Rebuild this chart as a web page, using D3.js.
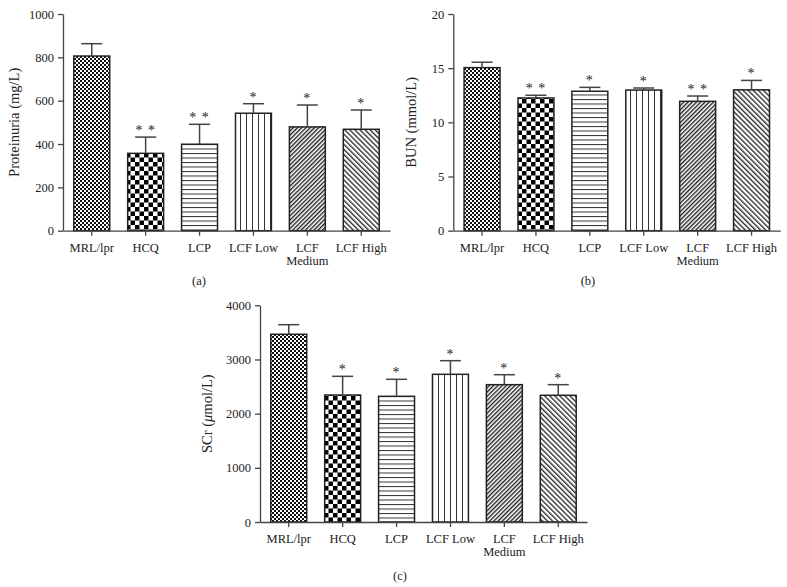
<!DOCTYPE html>
<html>
<head>
<meta charset="utf-8">
<script src="https://cdn.jsdelivr.net/npm/d3@7"></script>
<style>
  body { margin: 0; background: #fff; }
  text { font-family: "Liberation Serif", "DejaVu Serif", serif; fill: #222; }
</style>
</head>
<body>
<svg id="chart"></svg>
<script>
const width = 787;
const height = 587;

const groups = ["MRL/lpr", "HCQ", "LCP", "LCF Low", "LCF Medium", "LCF High"];
const groupLines = [["MRL/lpr"], ["HCQ"], ["LCP"], ["LCF Low"], ["LCF", "Medium"], ["LCF High"]];
const patternIds = ["fine", "checker", "hlines", "vlines", "diagR", "diagL"];

const proteinuria = [806, 357, 399, 542, 479, 468];
const proteinuriaErr = [57, 75, 92, 44, 101, 89];
const proteinuriaSig = ["", "**", "**", "*", "*", "*"];
const proteinuriaTicks = [0, 200, 400, 600, 800, 1000];

const bun = [15.05, 12.25, 12.87, 12.98, 11.94, 13.0];
const bunErr = [0.5, 0.25, 0.36, 0.19, 0.49, 0.87];
const bunSig = ["", "**", "*", "*", "**", "*"];
const bunTicks = [0, 5, 10, 15, 20];

const scr = [3465, 2344, 2320, 2726, 2535, 2339];
const scrErr = [177, 345, 314, 252, 184, 196];
const scrSig = ["", "*", "*", "*", "*", "*"];
const scrTicks = [0, 1000, 2000, 3000, 4000];

var svg = d3.select("#chart")
    .attr("width", width)
    .attr("height", height);

// fill patterns
var defs = svg.append("defs");

var p = defs.append("pattern").attr("id", "fine")
    .attr("patternUnits", "userSpaceOnUse").attr("width", 4).attr("height", 4);
p.append("rect").attr("width", 4).attr("height", 4).attr("fill", "#fff");
p.append("rect").attr("width", 2).attr("height", 2).attr("fill", "#111");
p.append("rect").attr("x", 2).attr("y", 2).attr("width", 2).attr("height", 2).attr("fill", "#111");

p = defs.append("pattern").attr("id", "checker")
    .attr("patternUnits", "userSpaceOnUse").attr("width", 9).attr("height", 9);
p.append("rect").attr("width", 9).attr("height", 9).attr("fill", "#fff");
p.append("rect").attr("width", 4.5).attr("height", 4.5).attr("fill", "#000");
p.append("rect").attr("x", 4.5).attr("y", 4.5).attr("width", 4.5).attr("height", 4.5).attr("fill", "#000");

p = defs.append("pattern").attr("id", "hlines")
    .attr("patternUnits", "userSpaceOnUse").attr("width", 6).attr("height", 4.5);
p.append("rect").attr("width", 6).attr("height", 4.5).attr("fill", "#fff");
p.append("line").attr("x1", 0).attr("x2", 6).attr("y1", 0.5).attr("y2", 0.5)
    .attr("stroke", "#333").attr("stroke-width", 1);

p = defs.append("pattern").attr("id", "vlines")
    .attr("patternUnits", "userSpaceOnUse").attr("width", 6).attr("height", 6);
p.append("rect").attr("width", 6).attr("height", 6).attr("fill", "#fff");
p.append("line").attr("x1", 0.5).attr("x2", 0.5).attr("y1", 0).attr("y2", 6)
    .attr("stroke", "#333").attr("stroke-width", 1);

p = defs.append("pattern").attr("id", "diagR")
    .attr("patternUnits", "userSpaceOnUse").attr("width", 3).attr("height", 3)
    .attr("patternTransform", "rotate(45)");
p.append("rect").attr("width", 3).attr("height", 3).attr("fill", "#fff");
p.append("line").attr("x1", 0.7).attr("x2", 0.7).attr("y1", 0).attr("y2", 3)
    .attr("stroke", "#111").attr("stroke-width", 1.3);

p = defs.append("pattern").attr("id", "diagL")
    .attr("patternUnits", "userSpaceOnUse").attr("width", 3.6).attr("height", 3.6)
    .attr("patternTransform", "rotate(-45)");
p.append("rect").attr("width", 3.6).attr("height", 3.6).attr("fill", "#fff");
p.append("line").attr("x1", 0.7).attr("x2", 0.7).attr("y1", 0).attr("y2", 3.6)
    .attr("stroke", "#111").attr("stroke-width", 1.2);

function drawPanel(opt) {
    var g = svg.append("g");

    var x = d3.scaleBand()
        .domain(groups)
        .range([opt.left, opt.left + 327])
        .paddingInner(1 / 3)
        .paddingOuter(0.2);

    var y = d3.scaleLinear()
        .domain([0, opt.max])
        .range([opt.bottom, opt.top]);

    var cx = d => x(d) + x.bandwidth() / 2;
    var errTop = i => y(opt.values[i] + opt.errors[i]);

    // bars
    g.selectAll("rect.bar")
        .data(groups)
        .enter()
        .append("rect")
        .attr("class", "bar")
        .attr("x", d => x(d))
        .attr("width", x.bandwidth())
        .attr("y", (d, i) => y(opt.values[i]))
        .attr("height", (d, i) => y(0) - y(opt.values[i]))
        .attr("fill", (d, i) => "url(#" + patternIds[i] + ")")
        .attr("stroke", "#222")
        .attr("stroke-width", 1.5);

    // error bars (upper only)
    g.selectAll("line.err")
        .data(groups)
        .enter()
        .append("line")
        .attr("x1", cx).attr("x2", cx)
        .attr("y1", (d, i) => y(opt.values[i]))
        .attr("y2", (d, i) => errTop(i))
        .attr("stroke", "#444").attr("stroke-width", 1.5);
    g.selectAll("line.cap")
        .data(groups)
        .enter()
        .append("line")
        .attr("x1", d => cx(d) - 10.5).attr("x2", d => cx(d) + 10.5)
        .attr("y1", (d, i) => errTop(i))
        .attr("y2", (d, i) => errTop(i))
        .attr("stroke", "#444").attr("stroke-width", 1.5);

    // significance marks
    g.selectAll("text.sig")
        .data(groups)
        .enter()
        .append("text")
        .attr("x", cx)
        .attr("y", (d, i) => errTop(i) - 2)
        .attr("text-anchor", "middle")
        .attr("font-size", 14)
        .attr("letter-spacing", 1)
        .attr("fill", "#333")
        .text((d, i) => opt.sig[i].split("").join(" "));

    // axes
    var yAxis = g.append("g")
        .attr("transform", "translate(" + opt.left + ",0)")
        .call(d3.axisLeft(y).tickValues(opt.ticks).tickFormat(d3.format("d"))
            .tickSize(5).tickPadding(4).tickSizeOuter(0));
    var xAxis = g.append("g")
        .attr("transform", "translate(0," + opt.bottom + ")")
        .call(d3.axisBottom(x).tickSize(5).tickSizeOuter(0).tickFormat(""));

    [yAxis, xAxis].forEach(function(a) {
        a.select(".domain").attr("stroke", "#444").attr("stroke-width", 1.3);
        a.selectAll(".tick line").attr("stroke", "#444").attr("stroke-width", 1.3);
    });
    yAxis.selectAll(".tick text")
        .attr("font-size", 12.5)
        .attr("font-family", "Liberation Serif")
        .attr("fill", "#222");

    // category labels, one text per line
    groups.forEach(function(d, i) {
        groupLines[i].forEach(function(s, k) {
            g.append("text")
                .attr("x", cx(d))
                .attr("y", opt.bottom + 21 + k * 13)
                .attr("text-anchor", "middle")
                .attr("font-size", 12.5)
                .text(s);
        });
    });

    // y title
    var yt = g.append("text")
        .attr("transform", "translate(" + opt.titleX + "," + (opt.top + opt.bottom) / 2 + ") rotate(-90)")
        .attr("text-anchor", "middle")
        .attr("font-size", 14.5);
    opt.title.forEach(function(part) {
        yt.append("tspan").attr("font-style", part[1] ? "italic" : null).text(part[0]);
    });

    // panel letter
    g.append("text")
        .attr("x", opt.letterX)
        .attr("y", opt.letterY)
        .attr("text-anchor", "middle")
        .attr("font-size", 12.5)
        .text(opt.letter);
}

drawPanel({
    left: 63, top: 14, bottom: 230.7, max: 1000,
    values: proteinuria, errors: proteinuriaErr, sig: proteinuriaSig, ticks: proteinuriaTicks,
    title: [["Proteinuria (mg/L)", false]], titleX: 19,
    letter: "(a)", letterX: 199, letterY: 285
});

drawPanel({
    left: 453.3, top: 14, bottom: 230.7, max: 20,
    values: bun, errors: bunErr, sig: bunSig, ticks: bunTicks,
    title: [["BUN (mmol/L)", false]], titleX: 416,
    letter: "(b)", letterX: 588, letterY: 285
});

drawPanel({
    left: 260, top: 305.3, bottom: 522, max: 4000,
    values: scr, errors: scrErr, sig: scrSig, ticks: scrTicks,
    title: [["SCr (", false], ["μ", true], ["mol/L)", false]], titleX: 212,
    letter: "(c)", letterX: 400, letterY: 580
});
</script>
</body>
</html>
